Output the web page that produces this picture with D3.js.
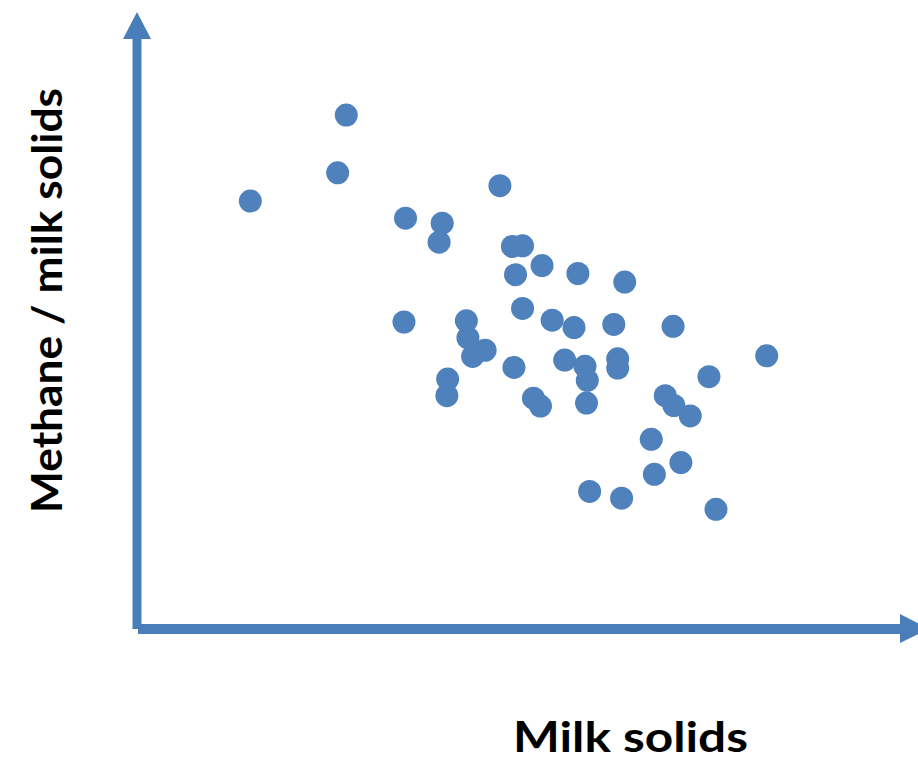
<!DOCTYPE html>
<html>
<head>
<meta charset="utf-8">
<script src="https://cdn.jsdelivr.net/npm/d3@7"></script>
<style>
  html, body { margin: 0; padding: 0; background: #ffffff; }
  svg { display: block; }
</style>
</head>
<body>
<svg id="chart" width="918" height="761"></svg>
<script>
// Data (arbitrary units)
const milkSolids = [14.4, 26.7, 25.6, 34.3, 39.0, 38.6, 46.4, 48.0, 49.3, 48.4,
  51.8, 56.4, 62.4, 49.3, 34.1, 42.1, 42.3, 44.5, 42.9, 53.1,
  55.9, 61.0, 68.6, 80.6, 48.2, 54.7, 57.3, 57.6, 61.5, 61.5,
  39.7, 39.6, 50.7, 51.6, 57.5, 67.6, 68.7, 70.8, 73.2, 65.8,
  69.6, 66.2, 57.9, 62.0, 74.1];
const methanePerMS = [69.7, 83.7, 74.3, 66.9, 66.1, 63.0, 72.2, 62.3, 62.4, 57.7,
  59.2, 57.9, 56.5, 52.2, 50.0, 50.2, 47.4, 45.4, 44.4, 50.3,
  49.1, 49.6, 49.3, 44.5, 42.6, 43.8, 42.8, 40.5, 44.0, 42.5,
  40.7, 38.0, 37.6, 36.3, 36.8, 38.0, 36.4, 34.7, 41.1, 30.9,
  27.1, 25.2, 22.4, 21.3, 19.5];
const xLabel = "Milk solids";
const yLabel = "Methane / milk solids";

const svg = d3.select("#chart");
const blue = "#4f81bd";
const axisBlue = "#4a7ebb";

const x = d3.scaleLinear().domain([0, 100]).range([138, 918]);
const y = d3.scaleLinear().domain([0, 100]).range([629, 15]);

// Axes as arrows
const g = svg.append("g");
const x0 = x(0) - 1, y0 = y(0);
g.append("line")
  .attr("x1", x0).attr("y1", y0).attr("x2", x0).attr("y2", 39)
  .attr("stroke", axisBlue).attr("stroke-width", 9);
g.append("path")
  .attr("d", `M${x0 - 14},39 L${x0 + 14},39 L${x0},12 Z`)
  .attr("fill", axisBlue);
g.append("line")
  .attr("x1", x(0)).attr("y1", y0).attr("x2", 901).attr("y2", y0)
  .attr("stroke", axisBlue).attr("stroke-width", 10);
g.append("path")
  .attr("d", `M900,${y0 - 15} L900,${y0 + 14} L929,${y0} Z`)
  .attr("fill", axisBlue);

// Points
const pts = milkSolids.map((v, i) => ({ x: v, y: methanePerMS[i] }));
svg.append("g").selectAll("circle")
  .data(pts).join("circle")
  .attr("cx", d => x(d.x))
  .attr("cy", d => y(d.y))
  .attr("r", 11.5)
  .attr("fill", blue);

// Labels
svg.append("text")
  .attr("x", 630.5).attr("y", 752)
  .attr("text-anchor", "middle")
  .attr("font-family", "Lato, 'Open Sans', sans-serif")
  .attr("font-weight", "bold")
  .attr("font-size", 42)
  .attr("fill", "#000")
  .attr("textLength", 235)
  .attr("lengthAdjust", "spacingAndGlyphs")
  .text(xLabel);

svg.append("text")
  .attr("transform", "translate(62,300.5) rotate(-90)")
  .attr("text-anchor", "middle")
  .attr("font-family", "Lato, 'Open Sans', sans-serif")
  .attr("font-weight", "bold")
  .attr("font-size", 42)
  .attr("fill", "#000")
  .attr("textLength", 425)
  .attr("lengthAdjust", "spacingAndGlyphs")
  .text(yLabel);
</script>
</body>
</html>
